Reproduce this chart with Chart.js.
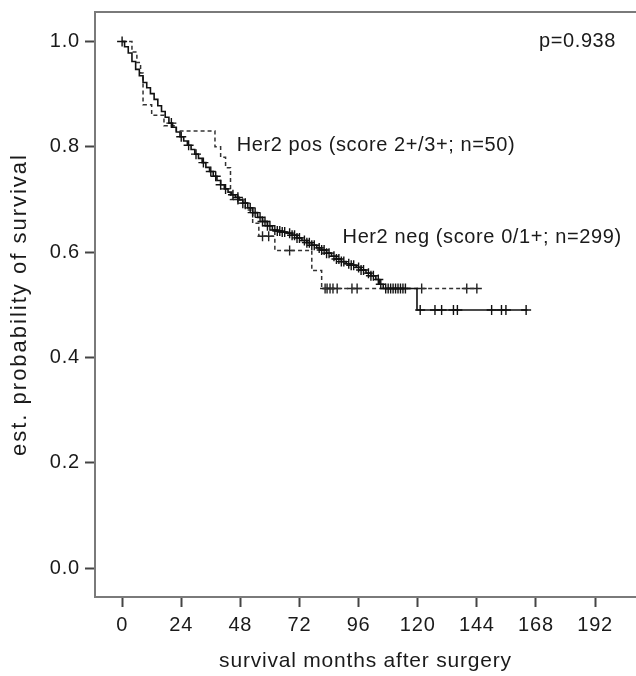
<!DOCTYPE html>
<html>
<head>
<meta charset="utf-8">
<script src="https://cdn.jsdelivr.net/npm/chart.js@4.4.1/dist/chart.umd.min.js"></script>
<style>
  html, body { margin: 0; padding: 0; background: #fff; overflow: hidden; }
  canvas { display: block; }
</style>
</head>
<body>
<canvas id="km" width="636" height="676"></canvas>
<script>
// --- data ---
// Her2 neg (solid): Kaplan-Meier step points (months, survival)
const negTimes = [0, 1, 2.5, 4, 5.5, 7, 8.5, 10, 11.5, 13, 14.5, 16, 17.5, 19, 20.5, 22, 23.5, 25, 26.5, 28, 29.5, 31, 32.5, 34, 35.5, 37, 38.5, 40, 41.5, 43, 44.5, 46, 47.5, 49, 51, 53, 55, 57, 59, 61, 63, 65, 67, 69, 71, 73, 75, 77, 79, 81, 83, 85, 87, 89, 91, 93, 95, 97, 99, 101, 103, 104.5, 106, 119.7, 164.5];
const negSurv  = [1.0, 0.99, 0.978, 0.962, 0.947, 0.935, 0.922, 0.912, 0.901, 0.89, 0.878, 0.867, 0.856, 0.845, 0.837, 0.828, 0.819, 0.811, 0.803, 0.795, 0.786, 0.778, 0.77, 0.761, 0.753, 0.744, 0.736, 0.728, 0.72, 0.714, 0.709, 0.704, 0.699, 0.693, 0.684, 0.675, 0.666, 0.658, 0.65, 0.642, 0.64, 0.638, 0.636, 0.632, 0.627, 0.622, 0.618, 0.613, 0.608, 0.604, 0.598, 0.592, 0.587, 0.582, 0.578, 0.575, 0.571, 0.566, 0.56, 0.555, 0.548, 0.539, 0.531, 0.49, 0.49];
const negCensored = [0, 20, 24, 27, 30, 33, 36, 38, 40, 42, 45, 47, 49, 50, 52, 53, 54, 56, 57, 58, 59, 60, 62, 63, 64, 65, 66, 68, 69, 70, 71, 72, 74, 75, 76, 77, 78, 80, 81, 82, 83, 84, 86, 87, 88, 89, 90, 92, 93, 94, 96, 97, 98, 100, 101, 102, 104, 105, 107, 108, 109, 110, 111, 112, 113, 114, 115, 121, 127, 129.7, 134.5, 136.1, 150, 154, 155.8, 164];

// Her2 pos (dashed)
const posTimes = [0, 4, 6, 7.5, 8.5, 12, 17, 22, 37.7, 40, 42, 44, 50, 53, 55.5, 62, 77, 81, 144.5];
const posSurv  = [1.0, 0.98, 0.96, 0.94, 0.88, 0.86, 0.84, 0.83, 0.80, 0.78, 0.76, 0.70, 0.68, 0.655, 0.63, 0.603, 0.565, 0.531, 0.531];
const posCensored = [47, 57, 59.5, 68, 82.4, 83.2, 84.4, 85.6, 87.3, 93.3, 95.4, 121.6, 139.9, 144];

const xTicks = [0, 24, 48, 72, 96, 120, 144, 168, 192];
const yTicks = [0.0, 0.2, 0.4, 0.6, 0.8, 1.0];

const labels = [
  { text: 'p=0.938', x: 200.5, y: 1.0, align: 'right' },
  { text: 'Her2 pos (score 2+/3+; n=50)', x: 46.5, y: 0.803, align: 'left' },
  { text: 'Her2 neg (score 0/1+; n=299)', x: 89.5, y: 0.628, align: 'left' }
];

// survival value of a step curve at time t
function survAt(times, surv, t) {
  let v = surv[0];
  for (let i = 0; i < times.length; i++) {
    if (times[i] <= t) v = surv[i];
  }
  return v;
}

const FONT = 'Liberation Sans, Arial, sans-serif';
const TXT = '#1a1a1a';
const AXIS = '#7a7a7a';

const curve = (times, surv) => times.map((t, i) => ({ x: t, y: surv[i] }));
const marks = (cens, times, surv) => cens.map(t => ({ x: t, y: survAt(times, surv, t) }));

// keep the scales from reserving extra room for their labels
function noPadding(s) {
  s.paddingLeft = 0;
  s.paddingRight = 0;
  s.paddingTop = 0;
  s.paddingBottom = 0;
}

// slightly wider letter spacing like the original; box top line + annotations
const extras = {
  id: 'extras',
  beforeDraw(chart) {
    chart.ctx.letterSpacing = '0.8px';
  },
  afterDraw(chart) {
    const { ctx, chartArea, scales } = chart;
    ctx.save();
    ctx.strokeStyle = AXIS;
    ctx.lineWidth = 2;
    ctx.beginPath();
    ctx.moveTo(chartArea.left, chartArea.top);
    ctx.lineTo(chart.width, chartArea.top);
    ctx.stroke();

    ctx.fillStyle = TXT;
    ctx.font = '20px ' + FONT;
    ctx.letterSpacing = '0.6px';
    ctx.textBaseline = 'middle';
    labels.forEach(l => {
      ctx.textAlign = l.align;
      ctx.fillText(l.text, scales.x.getPixelForValue(l.x), scales.y.getPixelForValue(l.y));
    });
    ctx.restore();
  }
};

// y title gets its own, wider spacing
const yTitleSpacing = {
  id: 'yTitleSpacing',
  beforeDraw(chart) {
    const s = chart.scales.y;
    const orig = s.drawTitle;
    if (!s._wrapped) {
      s.drawTitle = function () {
        this.ctx.save();
        this.ctx.letterSpacing = '2px';
        orig.apply(this, arguments);
        this.ctx.restore();
      };
      s._wrapped = true;
    }
  }
};

new Chart(document.getElementById('km'), {
  type: 'scatter',
  data: {
    datasets: [
      {
        label: 'Her2 neg',
        data: curve(negTimes, negSurv),
        showLine: true,
        stepped: 'before',
        borderColor: '#111',
        borderWidth: 1.6,
        pointRadius: 0,
        order: 1
      },
      {
        label: 'Her2 neg censored',
        data: marks(negCensored, negTimes, negSurv),
        pointStyle: 'cross',
        pointRadius: 5,
        borderColor: '#111',
        borderWidth: 1.4,
        order: 1
      },
      {
        label: 'Her2 pos',
        data: curve(posTimes, posSurv),
        showLine: true,
        stepped: 'before',
        borderColor: '#333',
        borderWidth: 1.5,
        borderDash: [4, 3],
        pointRadius: 0,
        order: 2
      },
      {
        label: 'Her2 pos censored',
        data: marks(posCensored, posTimes, posSurv),
        pointStyle: 'cross',
        pointRadius: 5,
        borderColor: '#222',
        borderWidth: 1.4,
        order: 2
      }
    ]
  },
  options: {
    responsive: false,
    animation: false,
    layout: { autoPadding: false, padding: { top: 12, right: 0, left: 0, bottom: 0 } },
    plugins: {
      legend: { display: false },
      tooltip: { enabled: false }
    },
    scales: {
      x: {
        type: 'linear',
        min: -11,
        max: 208.6,
        afterFit: s => { s.height = 79; noPadding(s); },
        afterBuildTicks: s => { s.ticks = xTicks.map(v => ({ value: v })); },
        border: { color: AXIS, width: 2 },
        grid: { drawOnChartArea: false, drawTicks: true, tickLength: 10, tickColor: '#444', tickWidth: 2 },
        ticks: { color: TXT, padding: 6, maxRotation: 0, font: { family: FONT, size: 20 } },
        title: {
          display: true,
          text: 'survival months after surgery',
          color: TXT,
          padding: { top: 0, bottom: 2 },
          font: { family: FONT, size: 21 }
        }
      },
      y: {
        min: -0.055,
        max: 1.056,
        afterFit: s => { s.width = 95; noPadding(s); },
        afterBuildTicks: s => { s.ticks = yTicks.map(v => ({ value: v })); },
        border: { color: AXIS, width: 2 },
        grid: { drawOnChartArea: false, drawTicks: true, tickLength: 10, tickColor: '#444', tickWidth: 2 },
        ticks: { color: TXT, padding: 5, font: { family: FONT, size: 20 }, callback: v => v.toFixed(1) },
        title: {
          display: true,
          text: 'est. probability of survival',
          color: TXT,
          padding: { top: 7, bottom: 0 },
          font: { family: FONT, size: 22 }
        }
      }
    }
  },
  plugins: [extras, yTitleSpacing]
});
</script>
</body>
</html>
